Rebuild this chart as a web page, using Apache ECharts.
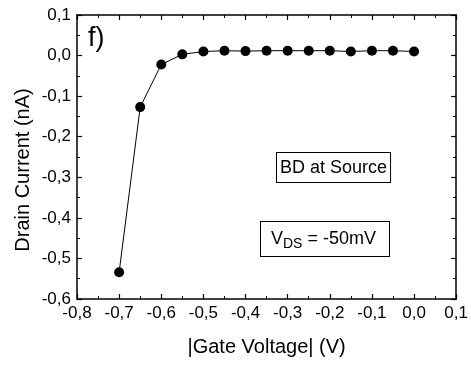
<!DOCTYPE html>
<html>
<head>
<meta charset="utf-8">
<script src="https://cdn.jsdelivr.net/npm/echarts@6/dist/echarts.min.js"></script>
<style>
  html, body { margin: 0; padding: 0; background: #fff; }
  #chart-container { width: 471px; height: 367px; }
</style>
</head>
<body>
<div id="chart-container"></div>
<script>
// gate voltage (V) and drain current (nA)
let gateVoltage = [-0.70, -0.65, -0.60, -0.55, -0.50, -0.45, -0.40, -0.35, -0.30, -0.25, -0.20, -0.15, -0.10, -0.05, 0.00];
let drainCurrent = [-0.534, -0.127, -0.022, 0.003, 0.010, 0.012, 0.011, 0.012, 0.012, 0.012, 0.012, 0.010, 0.012, 0.012, 0.010];

let fontName = '"Liberation Sans", Arial, sans-serif';

function commaLabel(v) {
    if (Math.abs(v) < 1e-9) v = 0;
    return v.toFixed(1).replace('.', ',');
}

let points = gateVoltage.map((x, i) => [x, drainCurrent[i]]);

let myChart = echarts.init(document.getElementById('chart-container'));

let tickStyle = { show: true, inside: true, length: 5, lineStyle: { color: '#000', width: 1.2 } };
let minorStyle = { show: true, splitNumber: 2, length: 3, lineStyle: { color: '#000', width: 1 } };

let option = {
    backgroundColor: '#fff',
    animation: false,
    grid: { left: 77, right: 14, top: 15, bottom: 68 },
    xAxis: [{
        type: 'value', min: -0.8, max: 0.1, interval: 0.1,
        name: '|Gate Voltage| (V)', nameLocation: 'middle', nameGap: 38,
        nameTextStyle: { fontFamily: fontName, fontSize: 20, color: '#000' },
        axisLine: { onZero: false, lineStyle: { color: '#000', width: 1.5 } },
        axisTick: tickStyle, minorTick: minorStyle,
        splitLine: { show: false },
        axisLabel: { formatter: commaLabel, fontFamily: fontName, fontSize: 17, color: '#000', margin: 6 }
    }, {
        type: 'value', position: 'top', min: -0.8, max: 0.1, interval: 0.1,
        axisLine: { onZero: false, lineStyle: { color: '#000', width: 1.5 } },
        axisTick: tickStyle, minorTick: minorStyle,
        splitLine: { show: false }, axisLabel: { show: false }
    }],
    yAxis: [{
        type: 'value', min: -0.6, max: 0.1, interval: 0.1,
        axisLine: { onZero: false, lineStyle: { color: '#000', width: 1.5 } },
        axisTick: tickStyle, minorTick: minorStyle,
        splitLine: { show: false },
        axisLabel: { formatter: commaLabel, fontFamily: fontName, fontSize: 17, color: '#000', margin: 6 }
    }, {
        type: 'value', position: 'right', min: -0.6, max: 0.1, interval: 0.1,
        axisLine: { onZero: false, lineStyle: { color: '#000', width: 1.5 } },
        axisTick: tickStyle, minorTick: minorStyle,
        splitLine: { show: false }, axisLabel: { show: false }
    }],
    series: [{
        type: 'line',
        data: points,
        xAxisIndex: 0, yAxisIndex: 0,
        symbol: 'circle', symbolSize: 10,
        itemStyle: { color: '#000' },
        lineStyle: { color: '#000', width: 1 }
    }],
    graphic: [{
        // y axis title, placed a bit lower than the grid centre like the original
        type: 'text', x: 23, y: 170, rotation: Math.PI / 2,
        style: {
            text: 'Drain Current (nA)', font: '20px ' + fontName, fill: '#000',
            align: 'center', verticalAlign: 'middle'
        }
    }, {
        type: 'text', left: 88, top: 25,
        style: { text: 'f)', font: '27px ' + fontName, fill: '#000' }
    }, {
        type: 'text', left: 276, top: 152,
        style: {
            text: 'BD at Source', font: '18px ' + fontName, fill: '#000',
            backgroundColor: '#fff', borderColor: '#000', borderWidth: 1,
            padding: [6, 3, 5, 3]
        }
    }, {
        type: 'text', left: 260, top: 221,
        style: {
            text: '{a|V}{b|DS}{a| = -50mV}',
            fill: '#000',
            backgroundColor: '#fff', borderColor: '#000', borderWidth: 1,
            padding: [5, 13, 5, 10],
            rich: {
                a: { fontFamily: fontName, fontSize: 18, color: '#000' },
                b: { fontFamily: fontName, fontSize: 14, color: '#000', padding: [10, 0, 0, 0] }
            }
        }
    }]
};

myChart.setOption(option);
</script>
</body>
</html>
